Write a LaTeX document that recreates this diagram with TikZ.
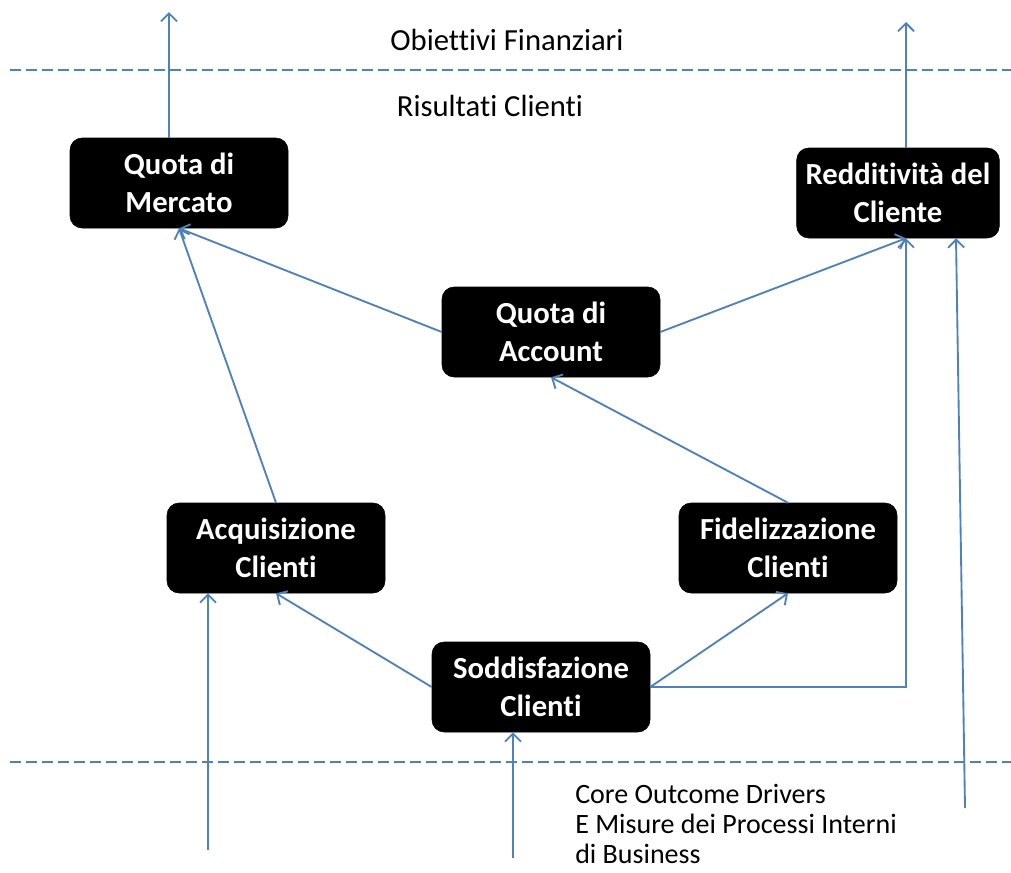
\documentclass[tikz,border=0pt]{standalone}
\usepackage{fontspec}
\setmainfont{Carlito}[Ligatures={NoCommon}]
\usepackage{tikz}
\usetikzlibrary{positioning,arrows.meta}

\definecolor{linkblue}{RGB}{79,129,189}
\tikzset{
  kpibox/.style={draw=black,fill=black,rounded corners=9pt,text=white,align=center,
    minimum width=163.5pt,minimum height=67.5pt,inner sep=2pt,
    font=\fontsize{23}{28.5}\selectfont\bfseries},
  link/.style={draw=linkblue,line width=1.4pt,-{Straight Barb[length=6pt,width=12pt]}},
  levelline/.style={draw=linkblue,line width=1.1pt,dash pattern=on 8pt off 4pt},
  plaintext/.style={font=\fontsize{23}{23.3}\selectfont,align=left,inner sep=0pt}
}

\begin{document}
\begin{tikzpicture}[x=0.75pt,y=0.75pt,yscale=-1,xscale=1]
\useasboundingbox (0,0) rectangle (1011,872);

% Level separators
\draw [levelline] (10,70) -- (1011,70) ;
\draw [levelline] (10,762) -- (1011,762) ;

% Text Node
\node [plaintext] (fin) at (507,40) {Obiettivi Finanziari};
% Text Node
\node [plaintext] (ris) at (490,106) {Risultati Clienti};
% Text Node
\node [plaintext,font=\fontsize{21}{22.8}\selectfont,anchor=west] (core) at (575,824) {Core Outcome Drivers\\E Misure dei Processi Interni\\di Business};

% Boxes
\node [kpibox] (qm) at (179,183) {Quota di\\Mercato};
\node [kpibox,minimum width=152pt] (rc) at (898,193) {Redditività del\\Cliente};
\node [kpibox] (qa) at (551,332) {Quota di\\Account};
\node [kpibox] (ac) at (276,548) {Acquisizione\\Clienti};
\node [kpibox] (fc) at (788,548) {Fidelizzazione\\Clienti};
\node [kpibox] (sc) at (541,687) {Soddisfazione\\Clienti};

% Free ends
\coordinate (outqm) at (169,12);
\coordinate (outrc) at (906,22);
\coordinate (inac) at (208,850);
\coordinate (insc) at (513,858);
\coordinate (inrc) at (965,808);

% Connectors
\draw [link] ([xshift=-7.5pt]qm.north) -- (outqm);
\draw [link] ([xshift=6pt]rc.north) -- (outrc);
\draw [link] (qa.west) -- (qm.south);
\draw [link] (ac.north) -- (qm.south);
\draw [link] (qa.east) -- ([xshift=6pt]rc.south);
\draw [link] (fc.north) -- (qa.south);
\draw [link] (sc.west) -- (ac.south);
\draw [link] (sc.east) -- (fc.south);
\draw [link] (sc.east) -| ([xshift=6pt]rc.south);
\draw [link] (inac) -- (inac |- ac.south);
\draw [link] (insc) -- (insc |- sc.south);
\draw [link] (inrc) -- ([xshift=43.5pt]rc.south);
\end{tikzpicture}
\end{document}
